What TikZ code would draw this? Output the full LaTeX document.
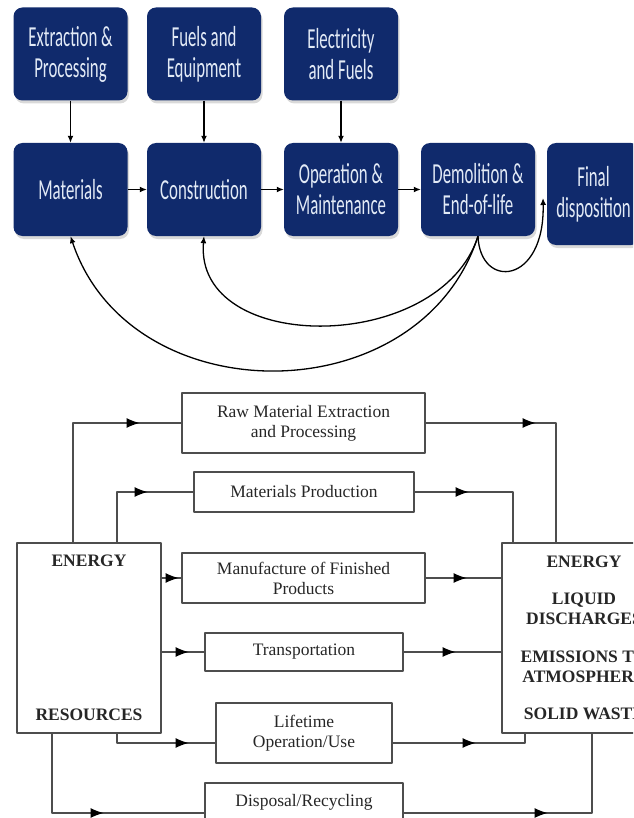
\documentclass[tikz,border=0pt]{standalone}
\usepackage{fontspec}
\setmainfont{Liberation Serif}
\newfontfamily\lcafont[FakeStretch=0.58]{Carlito}
\usetikzlibrary{arrows.meta,decorations.markings,shadows}
\definecolor{lcnavy}{HTML}{102A6C}
\definecolor{lcwhite}{HTML}{E2EAF6}
\definecolor{lcgray}{HTML}{4D4D4D}
\definecolor{lctext}{HTML}{262626}
\begin{document}
\begin{tikzpicture}[x=1pt,y=-1pt,line join=round,
	lcbox/.style={fill=lcnavy,rounded corners=9pt,text=lcwhite,align=center,minimum width=114pt,minimum height=93pt,inner sep=0pt,
		font=\lcafont\fontsize{29}{31}\selectfont,drop shadow={shadow xshift=1.5pt,shadow yshift=-3pt,opacity=0.3}},
	lcarr/.style={line width=1.3pt,-{Latex[length=7pt,width=6pt]}},
	lcabox/.style={draw=lcgray,line width=1.2pt,align=center,inner sep=0pt,text=lctext,font=\fontsize{17.5}{20}\selectfont},
	lcline/.style={draw=lcgray,line width=1.2pt},
	marr/.style={postaction={decorate},decoration={markings,mark=at position #1 with {\arrow{Latex[length=13pt,width=10pt,color=black]}}}}]
		\useasboundingbox (0,0) rectangle (633,818);
		\clip (0,0) rectangle (633,818);
		\node[lcbox] (ext) at (70.5,54) {Extraction \&\\Processing};
		\node[lcbox] (fuel) at (204,54) {Fuels and\\Equipment};
		\node[lcbox] (elec) at (341,54) {Electricity\\and Fuels};
		\node[lcbox] (mat) at (70.5,189.5) {Materials};
		\node[lcbox] (con) at (204,189.5) {Construction};
		\node[lcbox] (ope) at (341,189.5) {Operation \&\\Maintenance};
		\node[lcbox] (dem) at (478,189.5) {Demolition \&\\End-of-life};
		\node[lcbox,minimum width=93pt,minimum height=102pt] (fin) at (593.5,194) {Final\\disposition};
		\coordinate (fin-in) at (543,198);
		\draw[lcarr] (ext) -- (mat);
		\draw[lcarr] (fuel) -- (con);
		\draw[lcarr] (elec) -- (ope);
		\draw[lcarr] (mat) -- (con);
		\draw[lcarr] (con) -- (ope);
		\draw[lcarr] (ope) -- (dem);
		\draw[lcarr] (dem.south) .. controls (420,415) and (130,415) .. (mat.south);
		\draw[lcarr] (dem.south) .. controls (440,355) and (194,355) .. (con.south);
		\draw[lcarr] (dem.south) .. controls (480,290) and (545,285) .. (fin-in);
		\node[lcabox,minimum width=243pt,minimum height=60pt] (raw) at (303.5,423) {Raw Material Extraction\\and Processing};
		\node[lcabox,minimum width=220pt,minimum height=40pt] (matp) at (304,492) {Materials Production};
		\node[lcabox,minimum width=243pt,minimum height=50pt] (manu) at (303.5,578) {Manufacture of Finished\\Products};
		\node[lcabox,minimum width=198pt,minimum height=38pt] (trans) at (304,652) {Transportation};
		\node[lcabox,minimum width=176pt,minimum height=60pt] (life) at (304,733) {Lifetime\\Operation/Use};
		\node[lcabox,minimum width=198pt,minimum height=60pt,text height=12pt,text depth=26pt] (disp) at (304,813) {Disposal/Recycling};
		\node[lcabox,minimum width=144pt,minimum height=190pt,font=\fontsize{17.5}{20}\selectfont\bfseries] (lres) at (89,638) {ENERGY\\[134pt]RESOURCES};
		\node[lcabox,minimum width=164pt,minimum height=190pt,font=\fontsize{17.5}{19.5}\selectfont\bfseries] (rout) at (584,638)
			{ENERGY\\[18pt]LIQUID\\DISCHARGES\\[19pt]EMISSIONS TO\\ATMOSPHERE\\[18pt]SOLID WASTE};
		\draw[lcline,marr=186pt] ([xshift=-16pt]lres.north) |- (raw.west);
		\draw[lcline,marr=81pt] ([xshift=28pt]lres.north) |- (matp.west);
		\draw[lcline,marr=17pt] (lres.east |- manu.west) -- (manu.west);
		\draw[lcline,marr=27pt] (lres.east |- trans.west) -- (trans.west);
		\draw[lcline,marr=81pt] ([xshift=28pt]lres.south) |- ([yshift=-10pt]life.west);
		\draw[lcline,marr=131pt] ([xshift=-37pt]lres.south) |- (disp.west);
		\draw[lcline,marr=110pt] (raw.east) -| ([xshift=-28pt]rout.north);
		\draw[lcline,marr=54pt] (matp.east) -| ([xshift=-71pt]rout.north);
		\draw[lcline,marr=41pt] (manu.east) -- (manu.east -| rout.west);
		\draw[lcline,marr=52pt] (trans.east) -- (trans.east -| rout.west);
		\draw[lcline,marr=83pt] ([yshift=-10pt]life.east) -| ([xshift=-59pt]rout.south);
		\draw[lcline,marr=144pt] (disp.east) -| ([xshift=8pt]rout.south);
\end{tikzpicture}
\end{document}
